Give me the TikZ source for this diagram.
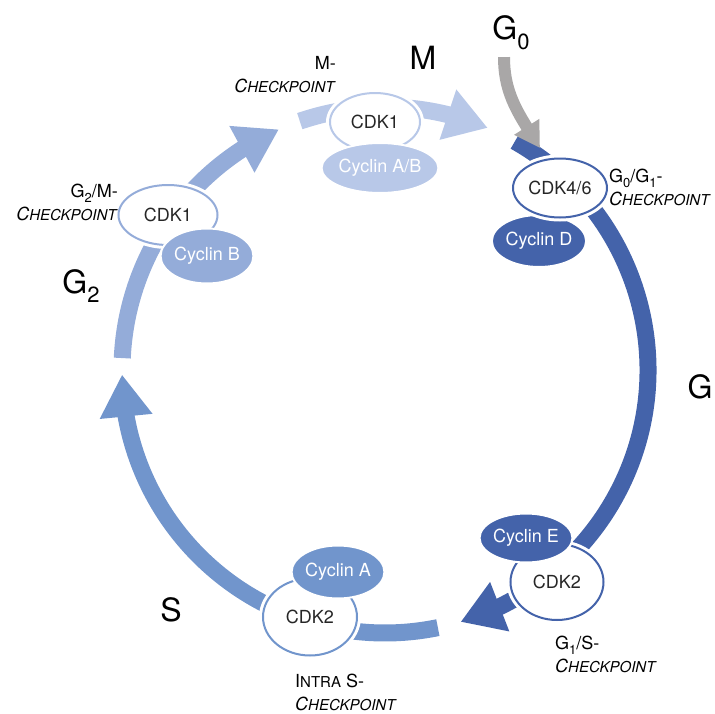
\documentclass[tikz,border=0pt]{standalone}
\usepackage{fontspec}
\setmainfont{TeX Gyre Heros}
\usetikzlibrary{arrows.meta,bending,shapes.geometric}

\definecolor{mphase}{HTML}{B8C8E8}
\definecolor{gtwophase}{HTML}{94ACD9}
\definecolor{sphase}{HTML}{7195CC}
\definecolor{gonephase}{HTML}{4463AA}
\definecolor{gzero}{HTML}{A9A7A7}

% small caps by hand
\newcommand\ckpt{\textit{C{\fontsize{15}{15}\selectfont HECKPOINT}}}
\newcommand\lowsub[2]{\raisebox{-.3em}{\fontsize{#1}{#1}\selectfont #2}}

\begin{document}
\begin{tikzpicture}[x=1pt, y=1pt,
  phase/.style={line width=17pt, -{Triangle[length=42pt,width=50pt]}},
  cdk/.style={ellipse, draw=#1, line width=2pt, fill=white,
    preaction={draw=white, line width=8pt}, inner sep=0pt,
    text=black!85, font=\fontsize{18}{18}\selectfont},
  cyclin/.style={ellipse, fill=#1, draw=white, line width=2pt, inner sep=0pt,
    text=white, font=\fontsize{18}{18}\selectfont},
  phaselabel/.style={inner sep=0pt, font=\fontsize{32}{32}\selectfont},
  checklabel/.style={inner sep=0pt, font=\fontsize{18}{23}\selectfont}]
  \useasboundingbox (-385,-343) rectangle (330,370);
  \def\R{263}
  % phases
  \draw[phase, mphase] (108.9:\R) arc[start angle=108.9, end angle=67, radius=\R];
  \draw[phase, gonephase] (60.4:\R) arc[start angle=60.4, end angle=-73.3, radius=\R];
  \draw[phase, sphase] (-78.4:\R) arc[start angle=-78.4, end angle=-179, radius=\R];
  \draw[phase, gtwophase] (177.4:\R) arc[start angle=177.4, end angle=113.8, radius=\R];
  % phase names
  \node[phaselabel] (mlabel) at (38,312) {M};
  \node[phaselabel] (g0) at (126,337) {G\lowsub{22}{0}};
  \node[phaselabel] (g1) at (315,-17) {G};
  \node[phaselabel] (slabel) at (-214,-240) {S};
  \node[phaselabel] (g2) at (-304,84) {G\lowsub{22}{2}};
  % G0 entry
  \coordinate (g0tip) at (155,222);
  \draw[gzero, line width=12pt, -{Triangle[length=25pt,width=28pt]}]
    ([shift={(-7,-7)}]g0.south) to[out=-90, in=122] (g0tip);
  % complexes
  \node[cdk=mphase, minimum width=90pt, minimum height=58pt] (cdkm) at (-10,248) {CDK1};
  \node[cyclin=mphase, minimum width=96pt, minimum height=50pt] (cycab) at (-5,202) {Cyclin A/B};
  \node[cyclin=gonephase, minimum width=85pt, minimum height=52pt] (cycd) at (154,129) {Cyclin D};
  \node[cdk=gonephase, minimum width=94pt, minimum height=59pt] (cdkfour) at (175,182) {CDK4/6};
  \node[cdk=gonephase, minimum width=93pt, minimum height=76pt] (cdkgone) at (172,-212) {CDK2};
  \node[cyclin=gonephase, minimum width=83pt, minimum height=49pt] (cyce) at (141,-168) {Cyclin E};
  \node[cdk=sphase, minimum width=94pt, minimum height=77pt] (cdks) at (-75,-247) {CDK2};
  \node[cyclin=sphase, minimum width=83pt, minimum height=53pt] (cyca) at (-47,-202) {Cyclin A};
  \node[cdk=gtwophase, minimum width=99pt, minimum height=60pt] (cdkgtwo) at (-217,155) {CDK1};
  \node[cyclin=gtwophase, minimum width=83pt, minimum height=55pt] (cycb) at (-178,114) {Cyclin B};
  % checkpoints
  \node[checklabel, align=right, anchor=east] (mcheck) at (-49,295) {M-\\\ckpt};
  \node[checklabel, align=left, anchor=west] (gzerocheck) at (224,183) {G\lowsub{13}{0}/G\lowsub{13}{1}-\\\ckpt};
  \node[checklabel, align=left, anchor=west] (gonecheck) at (170,-284) {G\lowsub{13}{1}/S-\\\ckpt};
  \node[checklabel, align=left, anchor=west] (scheck) at (-90,-322) {I{\fontsize{15}{15}\selectfont NTRA} S-\\\ckpt};
  \node[checklabel, align=right, anchor=east] (gtwocheck) at (-267,168) {G\lowsub{13}{2}/M-\\\ckpt};
\end{tikzpicture}
\end{document}
